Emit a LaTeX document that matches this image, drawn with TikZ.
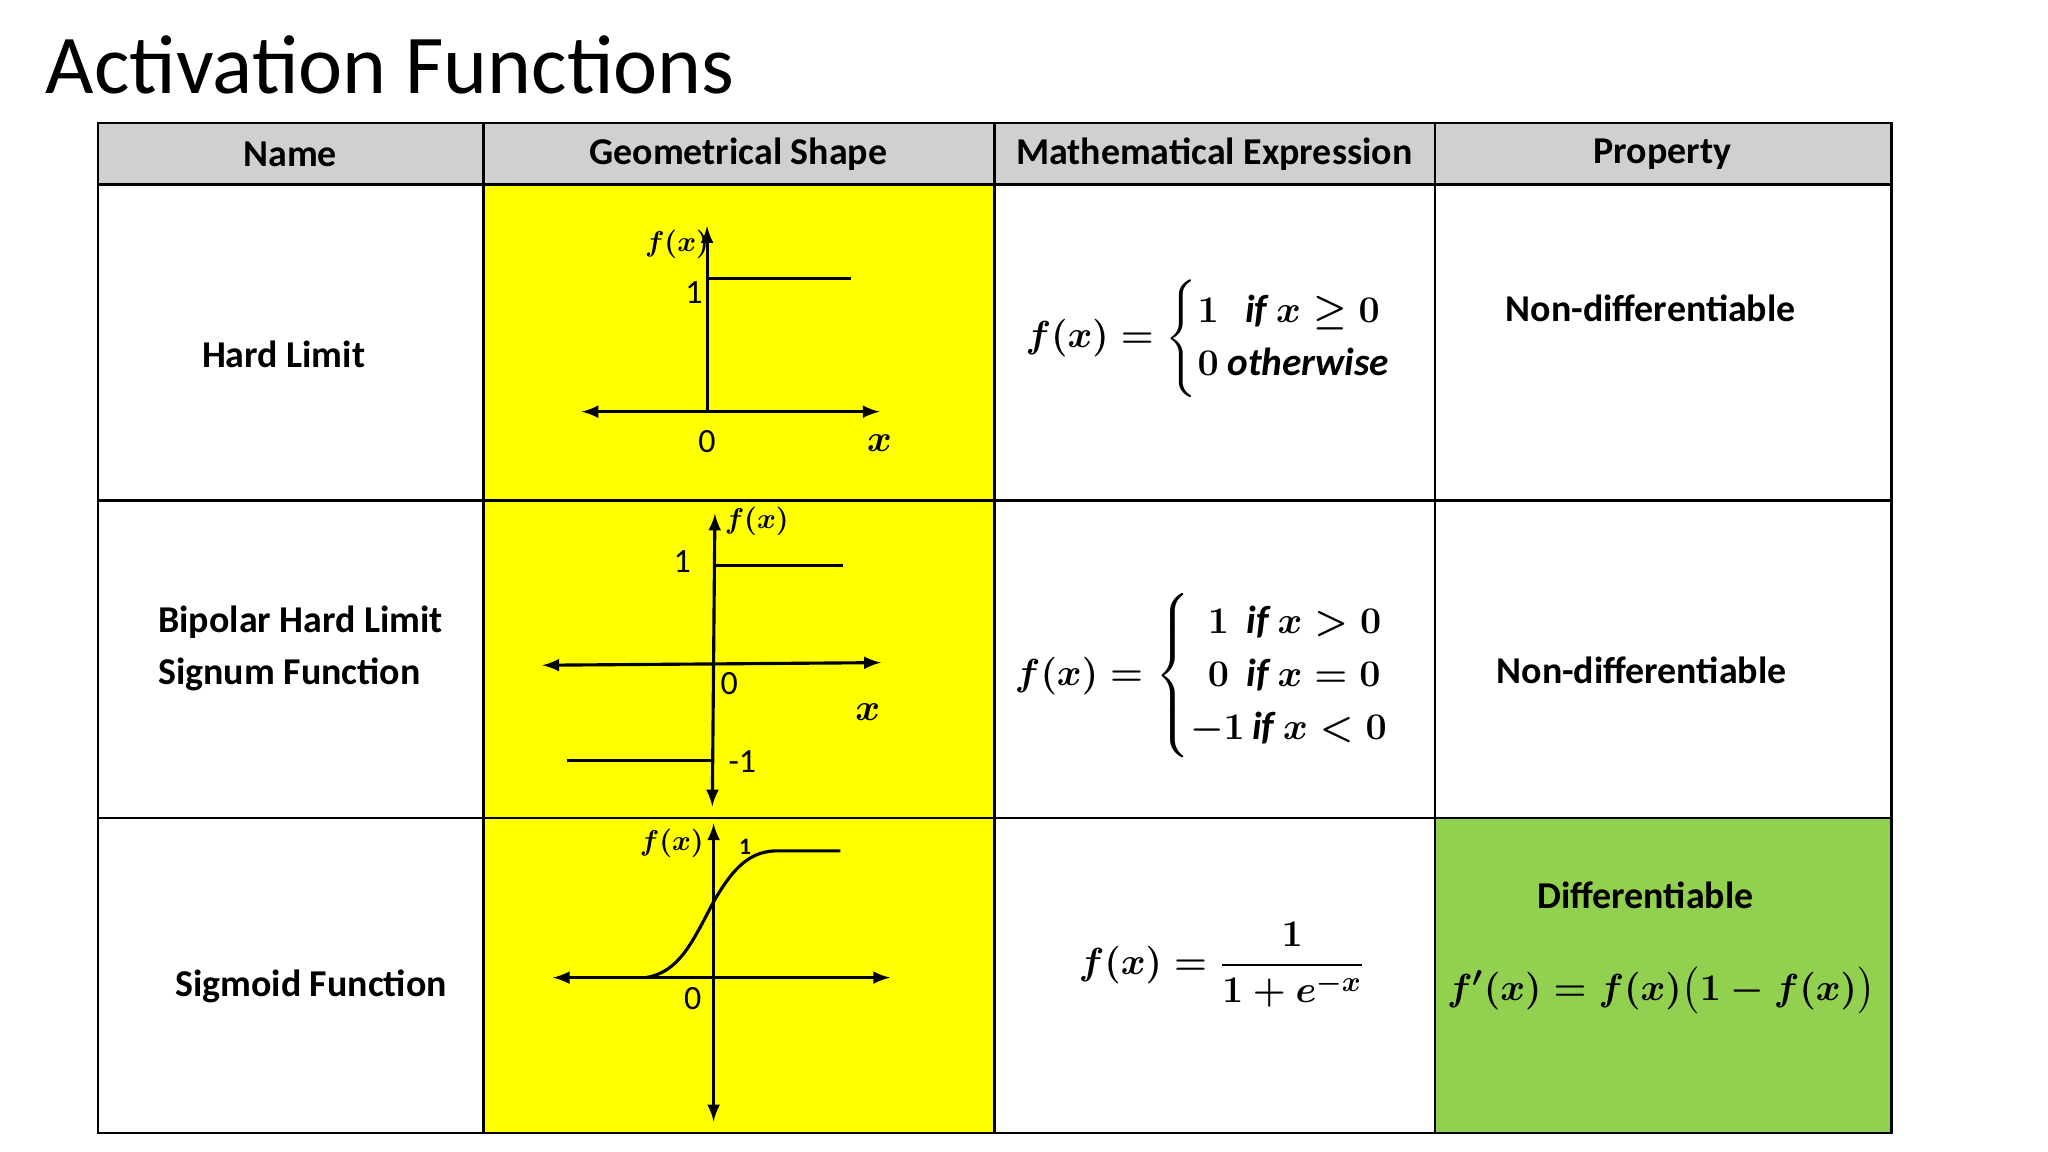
\documentclass[tikz,border=0pt]{standalone}
\usepackage{amsmath,amssymb}
\usepackage{fontspec}
\setmainfont{Carlito}
\begin{document}
\begin{tikzpicture}[x=0.5pt,y=-0.5pt,
  hdr/.style={font=\fontsize{14.5}{16}\selectfont\bfseries},
  body/.style={font=\fontsize{14.5}{20}\selectfont\bfseries,align=left},
  mth/.style={font=\fontsize{15}{17}\selectfont},
  lbl/.style={font=\fontsize{13}{15}\selectfont},
  axis/.style={line width=1.2pt,<->,>=latex},
  crv/.style={line width=1.2pt}]
\useasboundingbox (0,0) rectangle (1567,881);
\fill[white] (0,0) rectangle (1567,881);
\definecolor{hdrgray}{RGB}{208,208,208}
\definecolor{ylw}{RGB}{255,255,0}
\definecolor{grn}{RGB}{146,208,80}
\fill[hdrgray] (75,94) rectangle (1447,141);
\fill[ylw] (370,141) rectangle (761,867);
\fill[grn] (1098,626) rectangle (1447,867);
\draw[line width=1pt] (75,94) rectangle (1447,867);
\foreach \x in {370,761,1098} \draw[line width=1pt] (\x,94) -- (\x,867);
\foreach \y in {141,383,626} \draw[line width=1pt] (75,\y) -- (1447,\y);
\node[anchor=west,font=\fontsize{32}{38}\selectfont] (title) at (28,50) {Activation Functions};
\node[hdr] (h1) at (222,118) {Name};
\node[hdr] (h2) at (565,118) {Geometrical Shape};
\node[hdr] (h3) at (929,118) {Mathematical Expression};
\node[hdr] (h4) at (1272,118) {Property};
% names
\node[body] (n1) at (217,271) {Hard Limit};
\node[body] (n2) at (230,496) {Bipolar Hard Limit\\Signum Function};
\node[body] (n3) at (238,755) {Sigmoid Function};
% properties
\node[body] (p1) at (1263,236) {Non-differentiable};
\node[body] (p2) at (1256,513) {Non-differentiable};
\node[body] (p3) at (1259,685) {Differentiable};
\node[mth] (p4) at (1271,758) {$\boldsymbol{f'(x)=f(x)\big(1-f(x)\big)}$};
% expressions
\node[mth] (e1) at (940,259) {$\boldsymbol{f(x)=\begin{cases}1\ \ \ \mathit{if}\ x\geq 0\\ 0\ \mathit{otherwise}\end{cases}}$};
\node[mth] (e2) at (935,517) {$\boldsymbol{f(x)=\begin{cases}\ \ 1\ \ \mathit{if}\ x>0\\ \ \ 0\ \ \mathit{if}\ x=0\\ -1\,\mathit{if}\ x<0\end{cases}}$};
\node[mth] (e3) at (935,738) {$\boldsymbol{f(x)=\dfrac{1}{1+e^{-x}}}$};
% graph 1
\coordinate (a1l) at (445,315); \coordinate (a1r) at (673,315);
\coordinate (a1o) at (541,315); \coordinate (a1t) at (541,173);
\draw[axis] (a1l) -- (a1r);
\draw[line width=1.2pt,->,>=latex] (a1o) -- (a1t);
\coordinate (s1a) at (541,213); \coordinate (s1b) at (651,213);
\draw[crv] (s1a) -- (s1b);
\node[lbl,font=\fontsize{11}{13}\selectfont] (g1f) at (518,187) {$\boldsymbol{f(x)}$};
\node[lbl] (g1one) at (531,224) {1};
\node[lbl] (g1z) at (541,338) {0};
\node[lbl,font=\fontsize{15}{17}\selectfont] (g1x) at (673,339) {$\boldsymbol{x}$};
% graph 2
\coordinate (a2l) at (415,509); \coordinate (a2r) at (674,507);
\coordinate (a2t) at (547,393); \coordinate (a2b) at (545,617);
\draw[axis] (a2l) -- (a2r);
\draw[axis] (a2t) -- (a2b);
\coordinate (s2a) at (547,433); \coordinate (s2b) at (645,433);
\coordinate (s2c) at (434,582); \coordinate (s2d) at (545,582);
\draw[crv] (s2a) -- (s2b);
\draw[crv] (s2c) -- (s2d);
\node[lbl,font=\fontsize{11}{13}\selectfont] (g2f) at (579,399) {$\boldsymbol{f(x)}$};
\node[lbl] (g2one) at (522,430) {1};
\node[lbl] (g2z) at (558,523) {0};
\node[lbl,font=\fontsize{15}{17}\selectfont] (g2x) at (664,545) {$\boldsymbol{x}$};
\node[lbl] (g2m) at (568,583) {-1};
% graph 3
\coordinate (a3l) at (423,748); \coordinate (a3r) at (681,748);
\coordinate (a3t) at (546,630); \coordinate (a3b) at (546,858);
\draw[axis] (a3l) -- (a3r);
\draw[axis] (a3t) -- (a3b);
\draw[crv] (494,748) .. controls (520,744) and (530,720) .. (546,690) .. controls (562,662) and (575,651) .. (595,651) -- (643,651);
\node[lbl,font=\fontsize{11}{13}\selectfont] (g3f) at (514,645) {$\boldsymbol{f(x)}$};
\node[font=\fontsize{9}{10}\selectfont\bfseries] (g3one) at (570,648) {1};
\node[lbl] (g3z) at (530,764) {0};
\end{tikzpicture}
\end{document}
